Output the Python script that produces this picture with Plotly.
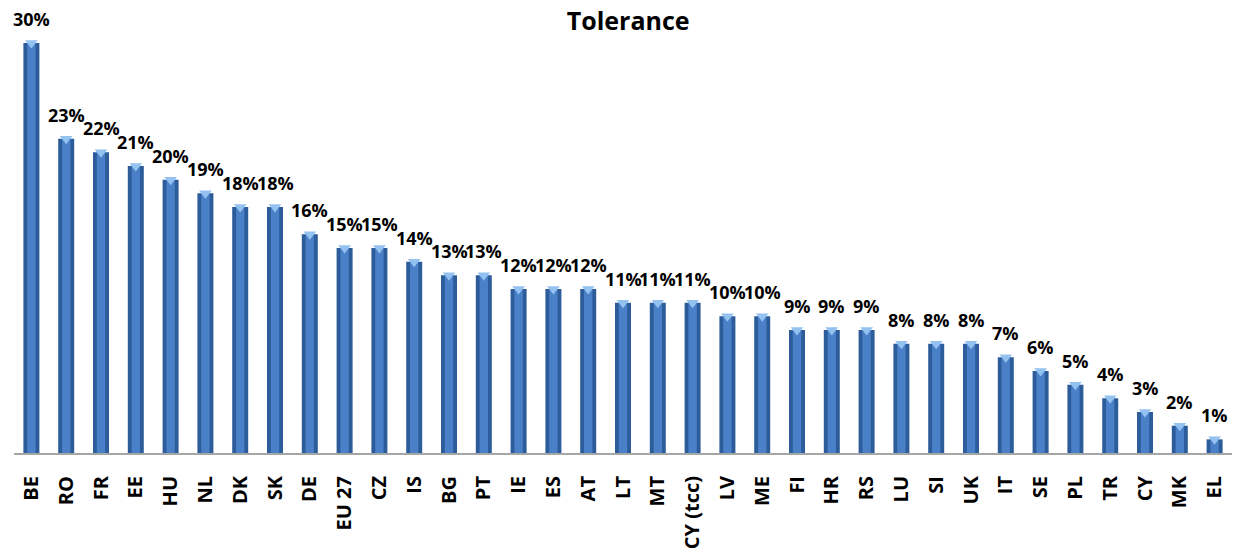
import plotly.graph_objects as go

countries = ["BE", "RO", "FR", "EE", "HU", "NL", "DK", "SK", "DE", "EU 27", "CZ", "IS",
             "BG", "PT", "IE", "ES", "AT", "LT", "MT", "CY (tcc)", "LV", "ME", "FI", "HR",
             "RS", "LU", "SI", "UK", "IT", "SE", "PL", "TR", "CY", "MK", "EL"]
tolerance = [30, 23, 22, 21, 20, 19, 18, 18, 16, 15, 15, 14,
             13, 13, 12, 12, 12, 11, 11, 11, 10, 10, 9, 9,
             9, 8, 8, 8, 7, 6, 5, 4, 3, 2, 1]

FONT = "Open Sans"

fig = go.Figure()

# outer (darker) body of each bar
fig.add_trace(go.Bar(
    x=countries, y=tolerance, width=0.46,
    marker=dict(color="#2D5C9B", line=dict(width=0)),
    hoverinfo="skip", showlegend=False,
))
# lighter core gives a rounded, shaded look
fig.add_trace(go.Bar(
    x=countries, y=tolerance, width=0.24,
    marker=dict(color="#4A80C8", line=dict(width=0)),
    hoverinfo="skip", showlegend=False,
))
# light cap at the top of each bar
fig.add_trace(go.Scatter(
    x=countries, y=tolerance, mode="markers",
    marker=dict(symbol="triangle-down", size=11, color="#93C1F0",
                line=dict(width=0)),
    cliponaxis=False, hoverinfo="skip", showlegend=False,
))

annotations = [
    dict(x=c, y=v, text=f"<b>{v}%</b>", showarrow=False, xanchor="center",
         yanchor="middle", yshift=24, font=dict(family=FONT, size=18, color="#000"))
    for c, v in zip(countries, tolerance)
]

fig.update_layout(
    width=1239, height=552,
    margin=dict(l=14, r=7, t=43, b=99, autoexpand=False),
    paper_bgcolor="white", plot_bgcolor="white",
    barmode="overlay",
    title=dict(text="<b>Tolerance</b>", x=0.507, xanchor="center", y=0.962, yanchor="middle",
               font=dict(family=FONT, size=25, color="#000")),
    annotations=annotations,
    xaxis=dict(
        type="category", range=[-0.5, len(countries) - 0.5],
        automargin=False,
        showline=True, linecolor="#A6A6A6", linewidth=2,
        showgrid=False, ticks="", tickangle=-90,
        ticklabelstandoff=13,
        tickfont=dict(family=FONT, size=20, color="#000"),
    ),
    yaxis=dict(range=[0, 30], visible=False, showgrid=False, zeroline=False,
               automargin=False),
)

# bold tick labels
fig.update_xaxes(tickmode="array", tickvals=countries,
                 ticktext=[f"<b>{c}</b>" for c in countries])

fig.write_html("out.html")
